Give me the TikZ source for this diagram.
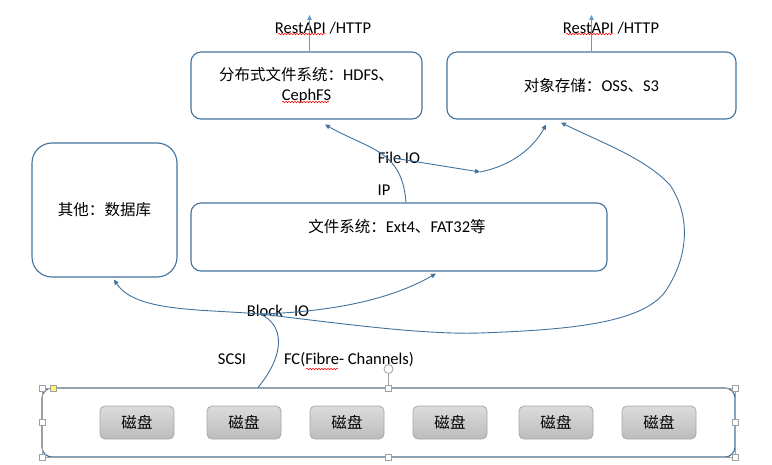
\documentclass[tikz,border=0pt]{standalone}
\usepackage{fontspec}
\setmainfont{Carlito}
\newfontfamily\cjk[Scale=0.94]{Noto Sans CJK SC}
\usetikzlibrary{arrows.meta,decorations.pathmorphing}
\definecolor{boxblue}{HTML}{41719C}
\definecolor{apiblue}{HTML}{5B9BD5}
\definecolor{diskgray}{HTML}{A6A6A6}
\definecolor{handlegray}{HTML}{A0A0A0}
\tikzset{
  roundbox/.style={draw=boxblue,line width=1.1pt,rounded corners=10pt,inner sep=0pt,align=center,font=\fontsize{16.5}{20}\selectfont},
  diskbox/.style={draw=diskgray,line width=0.8pt,rounded corners=5pt,top color=black!14,bottom color=black!26,minimum width=74pt,minimum height=33pt,inner sep=0pt,font=\fontsize{16.5}{18}\selectfont\cjk},
  txt/.style={inner sep=0pt,font=\fontsize{16.5}{20}\selectfont},
  link/.style={draw=boxblue,line width=0.9pt,-{Triangle[length=5pt,width=4.5pt]}},
  handle/.style={draw=handlegray,fill=white,line width=0.6pt,minimum size=6pt,inner sep=0pt},
  squiggle/.style={draw=red,line width=0.5pt,decorate,decoration={snake,amplitude=0.8pt,segment length=3pt}}
}
\begin{document}
\begin{tikzpicture}[x=1pt,y=-1pt]
\useasboundingbox (0,0) rectangle (772,465);

\node[roundbox,minimum width=231pt,minimum height=67pt] (dfs) at (306.5,85.5) {{\cjk 分布式文件系统：}HDFS{\cjk 、}\\CephFS};
\node[roundbox,minimum width=289pt,minimum height=67pt] (os) at (591.5,85.5) {{\cjk 对象存储：}OSS{\cjk 、}S3};
\node[roundbox,rounded corners=20pt,minimum width=145pt,minimum height=134pt] (db) at (104.5,210) {\cjk 其他：数据库};
\node[roundbox,minimum width=416pt,minimum height=68pt] (fs) at (399,237) {};
\node[roundbox,minimum width=693pt,minimum height=69pt] (disks) at (388.5,422.5) {};

\foreach \x [count=\i] in {137,244,347,450,556,659}
  \node[diskbox] (disk\i) at (\x,422.5) {磁盘};

\node[txt] (fslabel) at (397,227) {{\cjk 文件系统：}Ext4{\cjk 、}FAT32{\cjk 等}};
\node[txt] (apil) at (323,28) {RestAPI /HTTP};
\node[txt] (apir) at (611,28) {RestAPI /HTTP};
\node[txt] (fileio) at (399,158) {File IO};
\node[txt] (ip) at (384,190) {IP};
\node[txt] (blockio) at (278,311) {Block\ \ \ IO};
\node[txt] (scsi) at (232,359) {SCSI};
\node[txt] (fc) at (349,360) {FC(Fibre- Channels)};

\coordinate (dfsup) at (309.5,15);
\coordinate (osup) at (591.5,15);
\coordinate (fio) at (393,158);
\coordinate (mid) at (480,172);
\coordinate (bio) at (260,314);

\draw[link,draw=apiblue] ([xshift=3pt]dfs.north) -- (dfsup);
\draw[link,draw=apiblue] (os.north) -- (osup);

\draw[link] ([xshift=7pt]fs.north) .. controls (402,150) and (370,150) .. ([xshift=18.5pt,yshift=-5pt]dfs.south);
\draw[link] (fio) -- (mid);
\draw[link] (mid) .. controls (515,165) and (535,145) .. ([xshift=-45.5pt,yshift=-5pt]os.south);

\draw[boxblue,line width=0.9pt] ([xshift=-130.5pt]disks.north) .. controls (285,355) and (285,325) .. (bio);
\draw[link] (bio) .. controls (200,309) and (135,312) .. ([xshift=9.5pt,yshift=-2pt]db.south);
\draw[link] (bio) .. controls (330,312) and (390,300) .. ([xshift=37pt,yshift=-2pt]fs.south);
\draw[link] (bio) .. controls (330,322) and (420,335) .. (480,333)
  .. controls (560,330) and (640,325) .. (665,292)
  .. controls (690,255) and (690,215) .. (670,185)
  .. controls (645,158) and (600,142) .. ([xshift=-30.5pt,yshift=-3pt]os.south);

\draw[squiggle] (278,34) -- (326,34);
\draw[squiggle] (282,102) -- (329,102);
\draw[squiggle] (566,34) -- (613,34);
\draw[squiggle] (306,369) -- (338,369);

\draw[handlegray,line width=0.7pt] (42,388) rectangle (735,457);
\draw[handlegray,line width=0.6pt] (388.5,374) -- (388.5,385);
\node[draw=handlegray,circle,line width=0.8pt,minimum size=9pt,inner sep=0pt] (rot) at (388.5,369) {};
\foreach \hx/\hy [count=\i] in {42/388,388.5/388,735/388,42/422.5,735/422.5,42/457,388.5/457,735/457}
  \node[handle] (h\i) at (\hx,\hy) {};
\node[handle,fill=yellow!60] (adj) at (53,388) {};

\end{tikzpicture}
\end{document}
